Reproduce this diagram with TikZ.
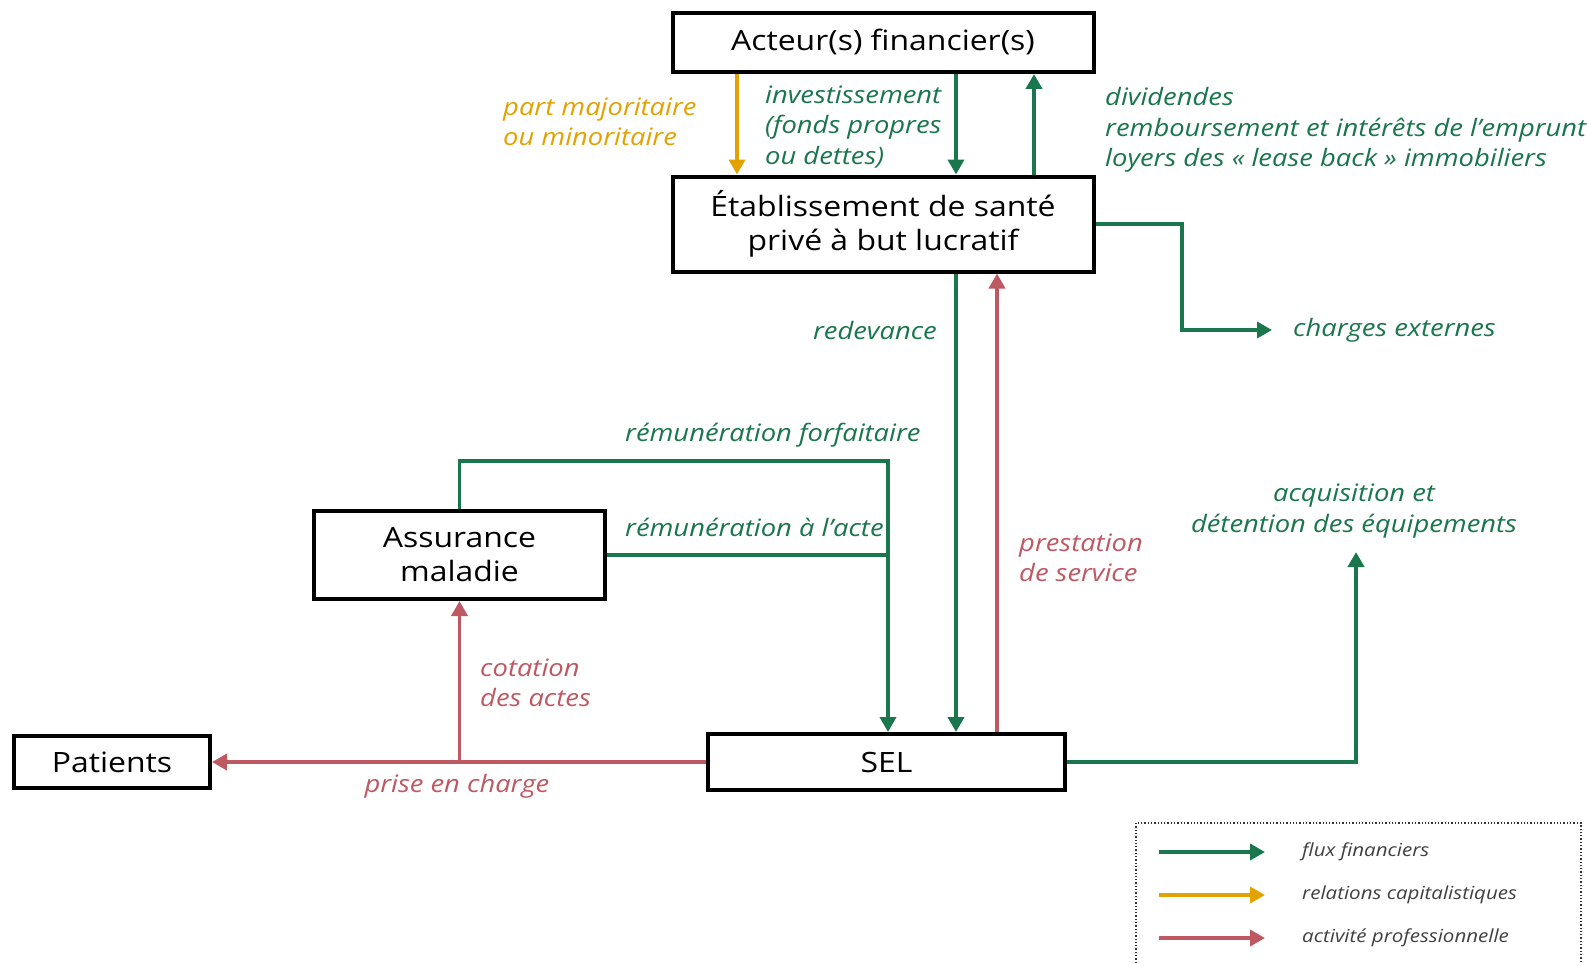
\documentclass[tikz,border=0pt]{standalone}
\usepackage{fontspec}
\setmainfont{Open Sans}[FakeStretch=1.14]
\usetikzlibrary{arrows.meta}
\definecolor{fingreen}{RGB}{26,118,76}
\definecolor{capgold}{RGB}{226,162,0}
\definecolor{prored}{RGB}{190,88,98}
\begin{document}
\begin{tikzpicture}[x=1pt,y=-1pt,
  box/.style={draw=black,line width=4pt,fill=white,align=center,
    font=\fontsize{28}{34}\selectfont,inner sep=0pt},
  flow/.style={line width=3.8pt,-{Triangle[length=15pt,width=16pt]}},
  finflow/.style={flow,draw=fingreen},
  capflow/.style={flow,draw=capgold},
  proflow/.style={flow,draw=prored},
  lab/.style={font=\fontsize{24}{30.5}\selectfont\itshape,inner sep=0pt},
  leg/.style={font=\fontsize{18}{20}\selectfont\itshape,text=black!75,inner sep=0pt,anchor=west}]
\useasboundingbox (0,0) rectangle (1587,963);
\clip (0,0) rectangle (1587,963);
\fill[white] (0,0) rectangle (1587,963);

% boxes
\node[box,minimum width=421pt,minimum height=59pt] (act) at (883,42.5) {Acteur(s) financier(s)};
\node[box,minimum width=421pt,minimum height=95pt] (etab) at (883,224) {Établissement de santé\\privé à but lucratif};
\node[box,minimum width=291pt,minimum height=88pt] (ass) at (459.5,555) {Assurance\\maladie};
\node[box,minimum width=196pt,minimum height=52pt] (pat) at (112,762) {Patients};
\node[box,minimum width=357pt,minimum height=56pt] (sel) at (886.5,762) {SEL};

% connector positions
\coordinate (xo) at (737,0);
\coordinate (xi) at (956,0);
\coordinate (xd) at (1034,0);
\coordinate (xp) at (997,0);
\coordinate (forf) at (888,461);
\coordinate (chgturn) at (1182,0);
\coordinate (chg) at (1272,330);
\coordinate (acq) at (1356,552);

% capital and financial flows at the top
\draw[capflow] (act.south -| xo) -- (etab.north -| xo);
\draw[finflow] (act.south -| xi) -- (etab.north -| xi);
\draw[finflow] (etab.north -| xd) -- (act.south -| xd);
\draw[finflow] (etab.east) -- (etab.east -| chgturn) |- (chg);

% establishment <-> SEL
\draw[finflow] (etab.south -| xi) -- (sel.north -| xi);
\draw[proflow] (sel.north -| xp) -- (etab.south -| xp);

% health insurance payments
\draw[finflow] (ass.north) |- (forf) -- (sel.north -| forf);
\draw[line width=3.8pt,draw=fingreen] (ass.east) -- (ass.east -| forf);

% professional activity
\draw[proflow] (sel.west) -- (pat.east);
\draw[proflow] (ass.south |- sel.west) -- (ass.south);

% equipment
\draw[finflow] (sel.east) -| (acq);

% labels
\node[lab,text=capgold,align=left,anchor=west] (lmaj) at (503,122) {part majoritaire\\ou minoritaire};
\node[lab,text=fingreen,align=left,anchor=west] (linv) at (765,127) {investissement\\(fonds propres\\ou dettes)};
\node[lab,text=fingreen,align=left,anchor=west] (ldiv) at (1105,130) {dividendes\\remboursement et intérêts de l’emprunt\\loyers des « lease back » immobiliers};
\node[lab,text=fingreen,anchor=west] (lchg) at (1293,330) {charges externes};
\node[lab,text=fingreen,anchor=east] (lred) at (937,330) {redevance};
\node[lab,text=fingreen,anchor=west] (lforf) at (625,435) {rémunération forfaitaire};
\node[lab,text=fingreen,anchor=west] (lacte) at (625,527) {rémunération à l’acte};
\node[lab,text=prored,align=left,anchor=west] (lpres) at (1019,558) {prestation\\de service};
\node[lab,text=prored,align=left,anchor=west] (lcot) at (480,683) {cotation\\des actes};
\node[lab,text=prored] (lpec) at (457,786) {prise en charge};
\node[lab,text=fingreen,align=center] (lacq) at (1354,511) {acquisition et\\détention des équipements};

% legend
\draw[dotted,line width=1.3pt,draw=black!80] (1136,823) rectangle (1581,990);
\coordinate (g1a) at (1159,852); \coordinate (g1b) at (1265,852);
\coordinate (g2a) at (1159,895); \coordinate (g2b) at (1265,895);
\coordinate (g3a) at (1159,938); \coordinate (g3b) at (1265,938);
\draw[finflow] (g1a) -- (g1b);
\draw[capflow] (g2a) -- (g2b);
\draw[proflow] (g3a) -- (g3b);
\node[leg] (t1) at (1302,852) {flux financiers};
\node[leg] (t2) at (1302,895) {relations capitalistiques};
\node[leg] (t3) at (1302,938) {activité professionnelle};
\end{tikzpicture}
\end{document}
